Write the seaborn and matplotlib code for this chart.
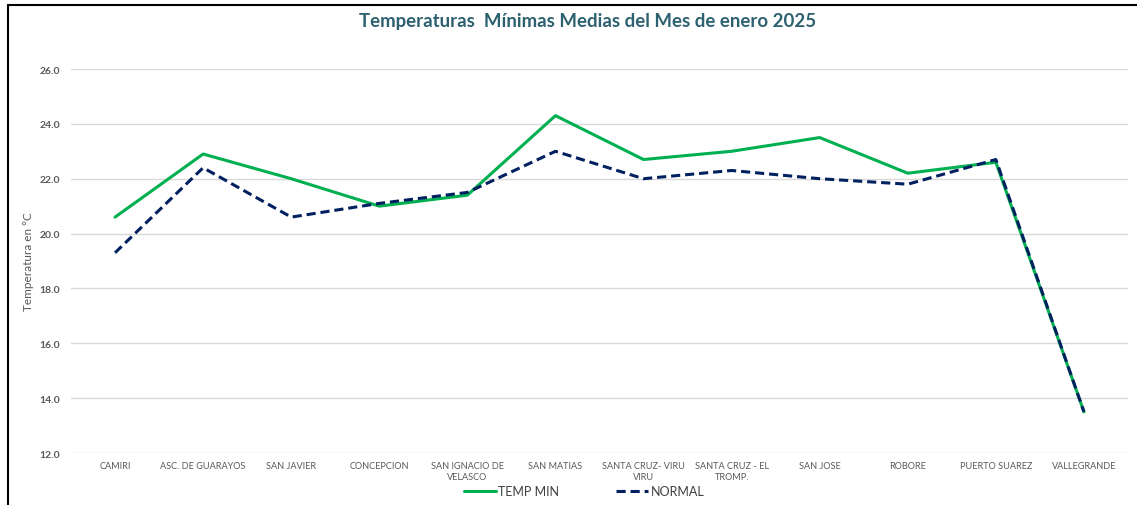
import matplotlib
matplotlib.use('Agg')
import matplotlib.pyplot as plt
from matplotlib.lines import Line2D
import seaborn as sns
import pandas as pd

# Datos del grafico
estaciones = [
    "CAMIRI", "ASC. DE GUARAYOS", "SAN JAVIER", "CONCEPCION",
    "SAN IGNACIO DE\nVELASCO", "SAN MATIAS", "SANTA CRUZ- VIRU\nVIRU",
    "SANTA CRUZ - EL\nTROMP.", "SAN JOSE", "ROBORE", "PUERTO SUAREZ",
    "VALLEGRANDE",
]
temp_min = [20.6, 22.9, 22.0, 21.0, 21.4, 24.3, 22.7, 23.0, 23.5, 22.2, 22.6, 13.5]
normal = [19.3, 22.4, 20.6, 21.1, 21.5, 23.0, 22.0, 22.3, 22.0, 21.8, 22.7, 13.5]
y_ticks = [12.0, 14.0, 16.0, 18.0, 20.0, 22.0, 24.0, 26.0]

df = pd.DataFrame({
    "estacion": estaciones * 2,
    "valor": temp_min + normal,
    "serie": ["TEMP MIN"] * len(estaciones) + ["NORMAL"] * len(estaciones),
})

sns.set_theme(style="white")
plt.rcParams['font.family'] = ['Lato', 'DejaVu Sans']

fig = plt.figure(figsize=(11.37, 5.06), dpi=100)
ax = fig.add_axes([71 / 1137, 1 - 454 / 506, (1128 - 71) / 1137, (454 - 70) / 506])

colores = {"TEMP MIN": "#00B050", "NORMAL": "#002060"}
sns.lineplot(data=df, x="estacion", y="valor", hue="serie", style="serie",
             palette=colores, dashes={"TEMP MIN": "", "NORMAL": (3, 1.6)},
             linewidth=2.2, sort=False, ax=ax, legend=False)

ax.set_ylim(12, 26)
ax.set_xlim(-0.5, len(estaciones) - 0.5)
ax.set_yticks(y_ticks)
ax.set_yticklabels([f"{v:.1f}" for v in y_ticks], fontsize=7.5,
                   fontweight="bold", color="#595959")
ax.set_xticks(range(len(estaciones)))
ax.set_xticklabels(estaciones, fontsize=6.6, color="#595959", linespacing=1.3)
ax.tick_params(axis="both", length=0, pad=8)
ax.tick_params(axis="x", pad=6)
ax.yaxis.grid(True, color="#D9D9D9", linewidth=1)
for s in ax.spines.values():
    s.set_visible(False)

ax.set_xlabel("")
ax.set_ylabel("Temperatura en °C", fontsize=8.5, color="#595959", labelpad=4)

fig.suptitle("Temperaturas  Mínimas Medias del Mes de enero 2025", x=588 / 1137, y=0.975,
             fontsize=13.4, fontweight="bold", color="#2E6170")

handles = [
    Line2D([], [], color=colores["TEMP MIN"], linewidth=2.2),
    Line2D([], [], color=colores["NORMAL"], linewidth=2.2, dashes=(3, 1.6)),
]
fig.legend(handles, ["TEMP MIN", "NORMAL"], loc="center", ncol=2,
           bbox_to_anchor=(584 / 1137, 1 - 492 / 506), frameon=False,
           fontsize=9, labelcolor="#404040", handlelength=2.6, handletextpad=0.2,
           columnspacing=4.5)

# marco de la figura
fig.add_artist(Line2D([8 / 1137, 1], [1 - 6 / 506] * 2, color="black", linewidth=1.5,
                      transform=fig.transFigure))
fig.add_artist(Line2D([8 / 1137] * 2, [0, 1 - 6 / 506], color="black", linewidth=1.5,
                      transform=fig.transFigure))

fig.savefig("out.png", dpi=100)
plt.close(fig)
